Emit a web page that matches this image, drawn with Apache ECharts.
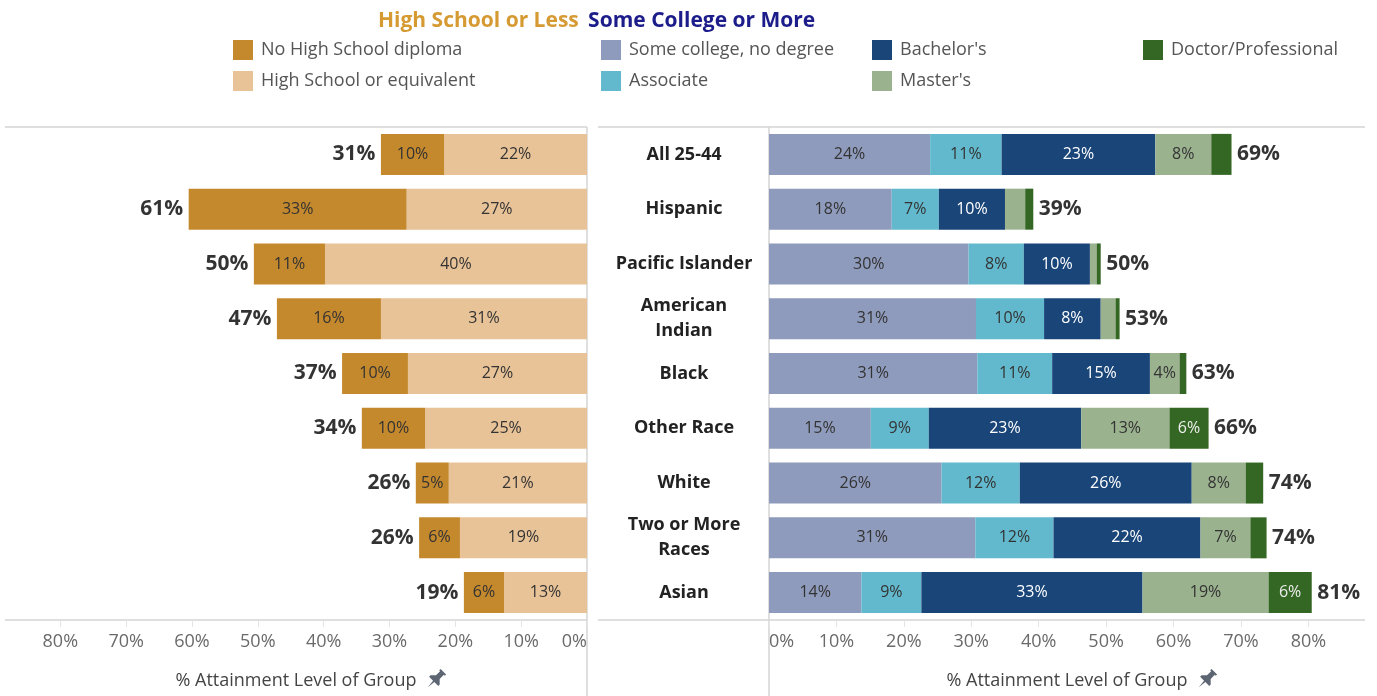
<!DOCTYPE html>
<html>
<head>
<meta charset="utf-8">
<script src="https://cdn.jsdelivr.net/npm/echarts@6/dist/echarts.min.js"></script>
<style>
  html, body { margin: 0; padding: 0; background: #fff; }
  #chart { width: 1377px; height: 696px; }
</style>
</head>
<body>
<div id="chart"></div>
<script>
// categories, top to bottom
const categories = ['All 25-44', 'Hispanic', 'Pacific Islander', 'American\nIndian', 'Black',
  'Other Race', 'White', 'Two or More\nRaces', 'Asian']

// high school or less (% of group)
const noDiploma = [9.6, 33.1, 10.8, 15.8, 10.0, 9.6, 5.0, 6.2, 6.1]
const hsEquivalent = [21.7, 27.4, 39.8, 31.3, 27.2, 24.6, 21.0, 19.3, 12.6]
const lessTotals = [31, 61, 50, 47, 37, 34, 26, 26, 19]

// some college or more (% of group)
const someCollege = [23.9, 18.2, 29.6, 30.7, 30.9, 15.1, 25.6, 30.6, 13.7]
const associate = [10.6, 7.0, 8.2, 10.1, 11.1, 8.6, 11.6, 11.6, 8.9]
const bachelors = [22.8, 9.8, 9.8, 8.4, 14.5, 22.6, 25.5, 21.8, 32.8]
const masters = [8.3, 3.0, 1.0, 2.2, 4.4, 13.1, 8.0, 7.4, 18.7]
const doctorate = [3.0, 1.2, 0.6, 0.6, 1.0, 5.8, 2.6, 2.4, 6.4]
const moreTotals = [69, 39, 50, 53, 63, 66, 74, 74, 81]

const tickValues = [0, 10, 20, 30, 40, 50, 60, 70, 80]

const FONT = 'Open Sans'
const AXIS_MAX = 88.4

const segLabel = (color) => ({
  show: true,
  position: 'inside',
  color: color,
  fontFamily: FONT,
  fontSize: 16,
  formatter: (p) => (p.value >= 4 ? Math.round(p.value) + '%' : '')
})

const totalLabel = (pos, totals) => ({
  show: true,
  position: pos,
  distance: 5,
  color: '#000',
  fontFamily: FONT,
  fontWeight: 'bold',
  fontSize: 21,
  formatter: (p) => totals[p.dataIndex] + '%'
})

const sumOf = (arrs) => categories.map((_, i) => arrs.reduce((s, a) => s + a[i], 0))

const bar = (name, data, color, textColor, axisIdx, stack) => ({
  name,
  type: 'bar',
  stack,
  xAxisIndex: axisIdx,
  yAxisIndex: axisIdx,
  barWidth: 41,
  data,
  itemStyle: { color },
  label: segLabel(textColor),
  emphasis: { disabled: true }
})

const lessSum = sumOf([noDiploma, hsEquivalent])
const moreSum = sumOf([someCollege, associate, bachelors, masters, doctorate])

const xAxisBase = (inverse, grid) => ({
  type: 'value',
  gridIndex: grid,
  min: 0,
  max: AXIS_MAX,
  inverse,
  axisLine: { show: false },
  splitLine: { show: false },
  axisTick: { show: true, length: 7, lineStyle: { color: '#e4e4e4' }, customValues: tickValues },
  axisLabel: {
    color: '#6a6a6a',
    fontFamily: FONT,
    fontSize: 18,
    margin: 13,
    customValues: tickValues,
    alignMinLabel: inverse ? 'right' : 'left',
    formatter: '{value}%'
  },
  name: '% Attainment Level of Group',
  nameLocation: 'middle',
  nameGap: 52,
  nameTextStyle: { color: '#444', fontFamily: FONT, fontSize: 18 }
})

const lineStyle = { stroke: '#d4d4d4', lineWidth: 1.5 }
const hline = (x1, x2, y) => ({ type: 'line', shape: { x1, y1: y, x2, y2: y }, style: lineStyle, silent: true })
const vline = (x, y1, y2) => ({ type: 'line', shape: { x1: x, y1, x2: x, y2 }, style: lineStyle, silent: true })

// little pushpin beside the axis titles
const pin = (x, y) => ({
  type: 'group',
  x, y,
  rotation: -Math.PI / 4,
  scaleX: 1.3,
  scaleY: 1.3,
  silent: true,
  children: [{
    type: 'polygon',
    shape: {
      points: [[-3, -8], [3, -8], [3, -6.5], [2, -6.5], [2, -2], [5, 1], [5, 2.5], [0.7, 2.5], [0, 9],
        [-0.7, 2.5], [-5, 2.5], [-5, 1], [-2, -2], [-2, -6.5], [-3, -6.5]]
    },
    style: { fill: '#5d6573' }
  }]
})

const chart = echarts.init(document.getElementById('chart'))

chart.setOption({
  animation: false,
  backgroundColor: '#fff',
  textStyle: { fontFamily: FONT },
  title: {
    left: 378,
    top: 11,
    padding: 0,
    text: '{a|High School or Less}  {b|Some College or More}',
    textStyle: {
      rich: {
        a: { color: '#D69A33', fontFamily: FONT, fontWeight: 'bold', fontSize: 21 },
        b: { color: '#1C1C8A', fontFamily: FONT, fontWeight: 'bold', fontSize: 21 }
      }
    }
  },
  legend: [
    { data: ['No High School diploma', 'High School or equivalent'], left: 233 },
    { data: ['Some college, no degree', 'Associate'], left: 601 },
    { data: ["Bachelor's", "Master's"], left: 872 },
    { data: ['Doctor/Professional'], left: 1143 }
  ].map((l) => ({
    ...l,
    top: 40,
    padding: 0,
    orient: 'vertical',
    icon: 'rect',
    itemWidth: 20,
    itemHeight: 20,
    itemGap: 11,
    selectedMode: false,
    textStyle: { color: '#555', fontFamily: FONT, fontSize: 18, padding: [0, 0, 0, 3] }
  })),
  grid: [
    { left: 5, right: 790, top: 127, bottom: 76 },
    { left: 769, right: 12, top: 127, bottom: 76 }
  ],
  xAxis: [xAxisBase(true, 0), xAxisBase(false, 1)],
  yAxis: [
    {
      type: 'category', gridIndex: 0, data: categories, inverse: true, position: 'right',
      axisLine: { show: false }, axisTick: { show: false }, axisLabel: { show: false }
    },
    {
      type: 'category', gridIndex: 1, data: categories, inverse: true,
      axisLine: { show: false }, axisTick: { show: false },
      axisLabel: {
        color: '#222', fontFamily: FONT, fontWeight: 'bold', fontSize: 18,
        lineHeight: 25, align: 'center', margin: 85
      }
    }
  ],
  series: [
    bar('High School or equivalent', hsEquivalent, '#E8C398', '#333', 0, 'less'),
    bar('No High School diploma', noDiploma, '#C4882D', '#333', 0, 'less'),
    {
      type: 'scatter', xAxisIndex: 0, yAxisIndex: 0, symbolSize: 1,
      itemStyle: { color: 'rgba(0,0,0,0)' },
      data: lessSum.map((v, i) => [v, categories[i]]),
      label: totalLabel('left', lessTotals)
    },
    bar('Some college, no degree', someCollege, '#8F9BBC', '#333', 1, 'more'),
    bar('Associate', associate, '#62B9CD', '#333', 1, 'more'),
    bar("Bachelor's", bachelors, '#1A4579', '#fff', 1, 'more'),
    bar("Master's", masters, '#9BB28F', '#333', 1, 'more'),
    bar('Doctor/Professional', doctorate, '#346723', '#eee', 1, 'more'),
    {
      type: 'scatter', xAxisIndex: 1, yAxisIndex: 1, symbolSize: 1,
      itemStyle: { color: 'rgba(0,0,0,0)' },
      data: moreSum.map((v, i) => [v, categories[i]]),
      label: totalLabel('right', moreTotals)
    }
  ],
  graphic: [
    hline(5, 587, 127),
    hline(598, 1365, 127),
    hline(5, 587, 620),
    hline(598, 1365, 620),
    vline(587, 127, 696),
    vline(769, 127, 696),
    pin(436, 679),
    pin(1207, 679)
  ]
})
</script>
</body>
</html>
